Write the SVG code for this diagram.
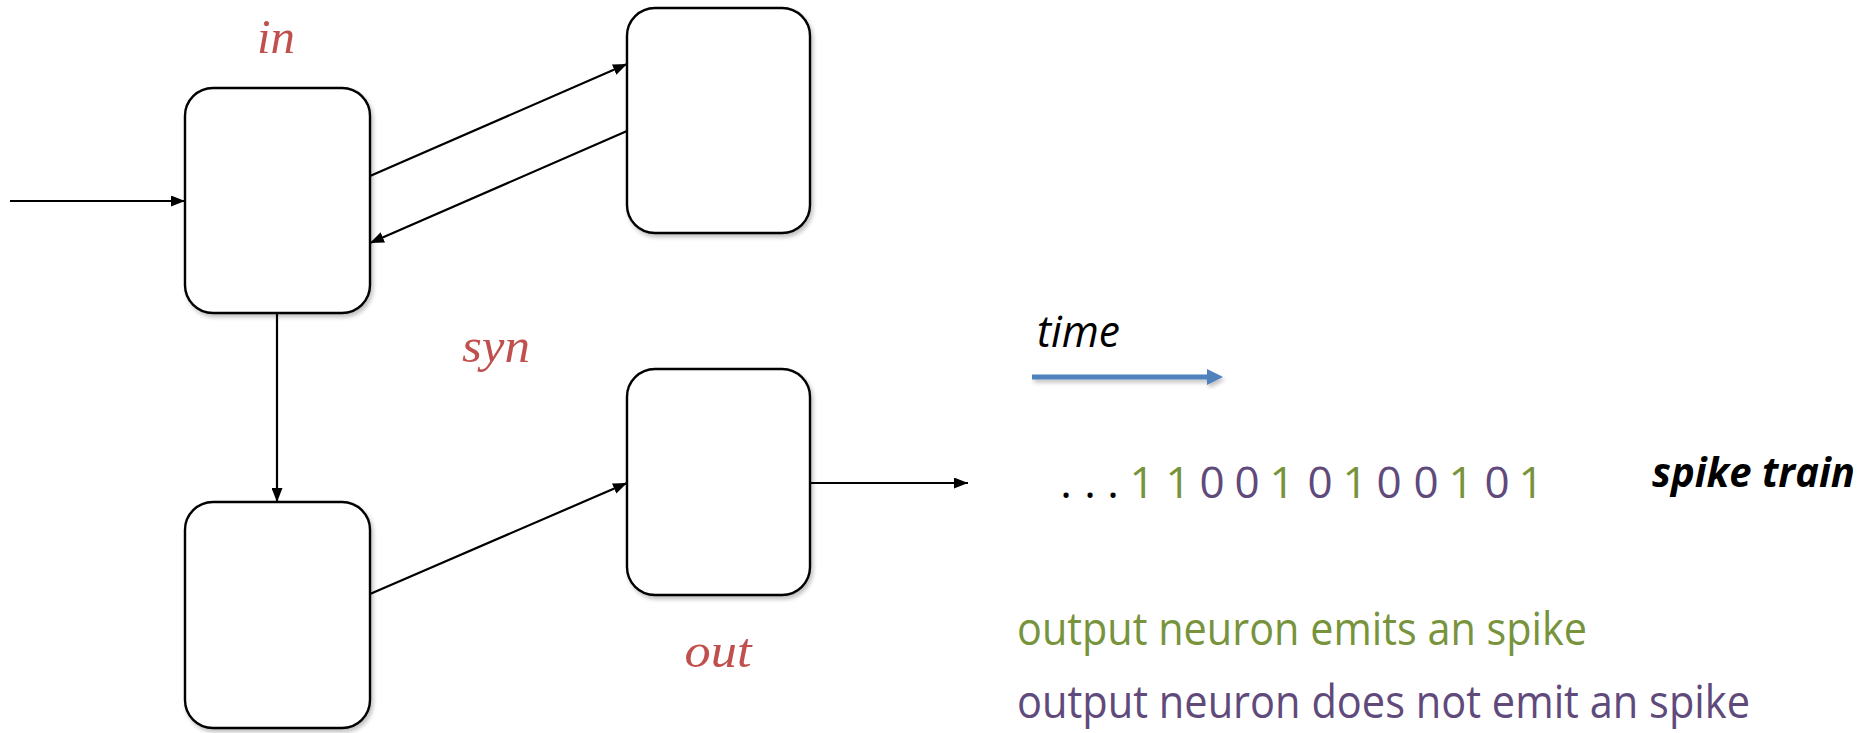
<svg xmlns="http://www.w3.org/2000/svg" width="1864" height="733" viewBox="0 0 1864 733">
  <defs>
    <filter id="shadow" x="-10%" y="-10%" width="130%" height="130%">
      <feGaussianBlur in="SourceAlpha" stdDeviation="2"/>
      <feOffset dx="2" dy="3" result="b"/>
      <feComponentTransfer><feFuncA type="linear" slope="0.25"/></feComponentTransfer>
      <feMerge><feMergeNode/><feMergeNode in="SourceGraphic"/></feMerge>
    </filter>
    <marker id="arrow" markerWidth="14" markerHeight="11" refX="14" refY="5.5" orient="auto" markerUnits="userSpaceOnUse">
      <path d="M0,0 L14,5.5 L0,11 z" fill="#000"/>
    </marker>
  </defs>
  <style>
    .node { fill: #fff; stroke: #000; stroke-width: 2.4; }
    .conn { stroke: #000; stroke-width: 2.2; fill: none; marker-end: url(#arrow); }
    .var { font-family: "Liberation Serif", serif; font-style: italic; fill: #C0504D; font-size: 48px; }
    .sans { font-family: "Open Sans", "Noto Sans", sans-serif; }
    .g { fill: #77933C; }
    .p { fill: #604A7B; }
  </style>
  <rect width="1864" height="733" fill="#fff"/>

  <g id="node-in" filter="url(#shadow)">
    <rect class="node" x="185" y="88" width="185" height="225" rx="28" ry="28"/>
  </g>
  <g id="node-top" filter="url(#shadow)">
    <rect class="node" x="627" y="8" width="183" height="225" rx="28" ry="28"/>
  </g>
  <g id="node-syn" filter="url(#shadow)">
    <rect class="node" x="185" y="502" width="185" height="226" rx="28" ry="28"/>
  </g>
  <g id="node-out" filter="url(#shadow)">
    <rect class="node" x="627" y="369" width="183" height="226" rx="28" ry="28"/>
  </g>

  <g id="connectors">
    <path class="conn" d="M10,201 L185,201"/>
    <path class="conn" d="M370,176 L627,64"/>
    <path class="conn" d="M627,131 L370,243"/>
    <path class="conn" d="M277,313 L277,502"/>
    <path class="conn" d="M370,594 L627,483"/>
    <path class="conn" d="M810,483 L968,483"/>
  </g>

  <g id="labels">
    <text class="var" x="276" y="53" text-anchor="middle" textLength="38" lengthAdjust="spacingAndGlyphs">in</text>
    <text class="var" x="496" y="362" text-anchor="middle" textLength="68" lengthAdjust="spacingAndGlyphs">syn</text>
    <text class="var" x="718" y="667" text-anchor="middle" textLength="67" lengthAdjust="spacingAndGlyphs">out</text>
  </g>

  <g id="time-axis">
    <text class="sans" x="1037" y="347" font-size="44" font-style="italic" fill="#000" textLength="83" lengthAdjust="spacingAndGlyphs">time</text>
    <g filter="url(#shadow)">
      <line x1="1032" y1="377" x2="1210" y2="377" stroke="#4F81BD" stroke-width="5"/>
      <polygon points="1207,369 1223,377 1207,385" fill="#4F81BD"/>
    </g>
  </g>

  <g id="spike-train" class="sans" font-size="44" text-anchor="middle">
    <text x="1066" y="498" fill="#000">.</text>
    <text x="1090" y="498" fill="#000">.</text>
    <text x="1113" y="498" fill="#000">.</text>
    <text class="g" x="1142" y="498">1</text>
    <text class="g" x="1178" y="498">1</text>
    <text class="p" x="1212" y="498">0</text>
    <text class="p" x="1247" y="498">0</text>
    <text class="g" x="1282" y="498">1</text>
    <text class="p" x="1320" y="498">0</text>
    <text class="g" x="1355" y="498">1</text>
    <text class="p" x="1389" y="498">0</text>
    <text class="p" x="1426" y="498">0</text>
    <text class="g" x="1461" y="498">1</text>
    <text class="p" x="1497" y="498">0</text>
    <text class="g" x="1531" y="498">1</text>
  </g>

  <text class="sans" x="1652" y="487" font-size="42" font-weight="bold" font-style="italic" fill="#000" textLength="203" lengthAdjust="spacingAndGlyphs">spike train</text>

  <g id="legend" class="sans" font-size="46">
    <text class="g" x="1017" y="645" textLength="570" lengthAdjust="spacingAndGlyphs">output neuron emits an spike</text>
    <text class="p" x="1017" y="718" textLength="733" lengthAdjust="spacingAndGlyphs">output neuron does not emit an spike</text>
  </g>
</svg>
